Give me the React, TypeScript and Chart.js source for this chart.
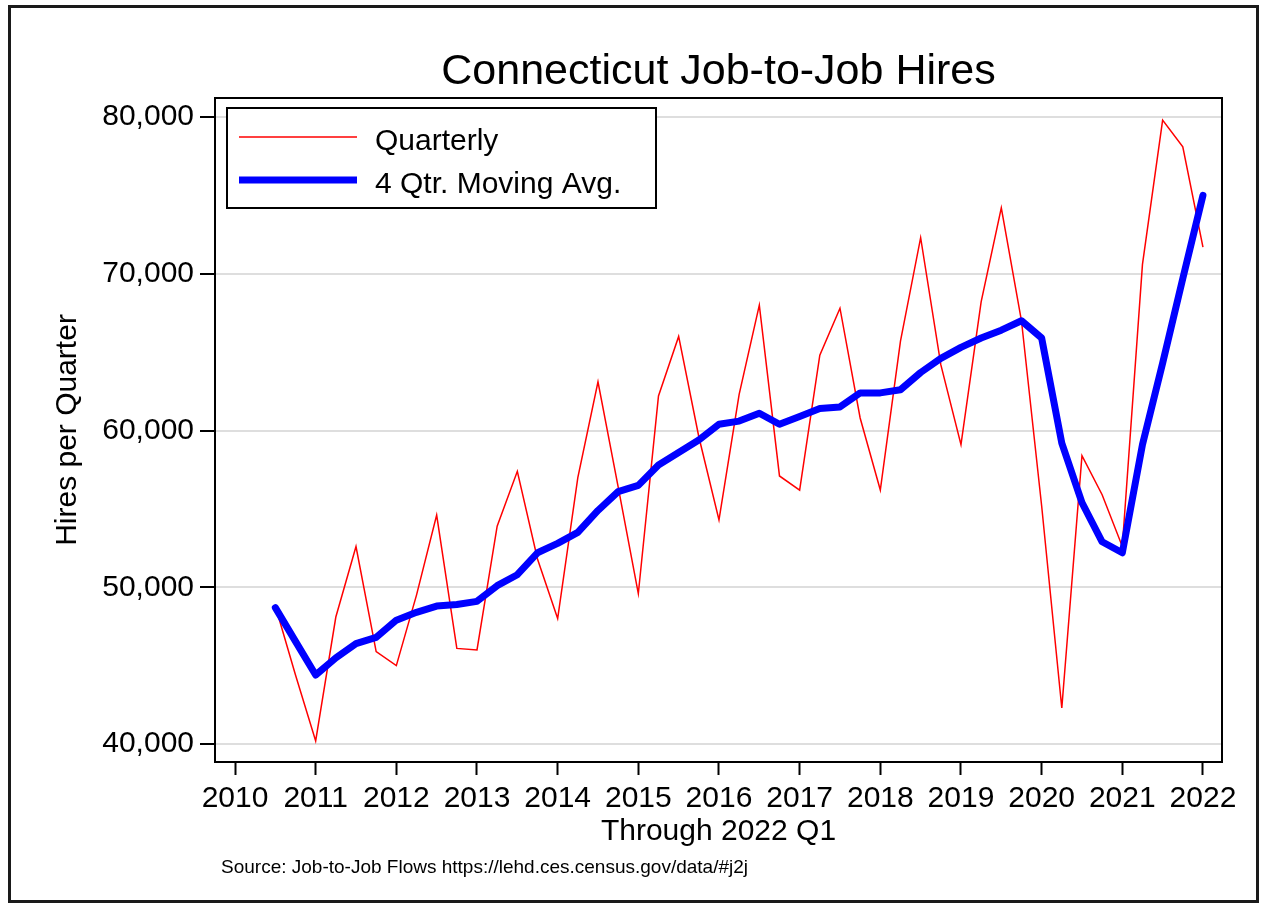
import React, { useEffect, useRef } from "react";
import { Chart, registerables } from "chart.js";

Chart.register(...registerables);

// ---------- data ----------
const QUARTERS = [
  "2010Q3", "2010Q4",
  "2011Q1", "2011Q2", "2011Q3", "2011Q4",
  "2012Q1", "2012Q2", "2012Q3", "2012Q4",
  "2013Q1", "2013Q2", "2013Q3", "2013Q4",
  "2014Q1", "2014Q2", "2014Q3", "2014Q4",
  "2015Q1", "2015Q2", "2015Q3", "2015Q4",
  "2016Q1", "2016Q2", "2016Q3", "2016Q4",
  "2017Q1", "2017Q2", "2017Q3", "2017Q4",
  "2018Q1", "2018Q2", "2018Q3", "2018Q4",
  "2019Q1", "2019Q2", "2019Q3", "2019Q4",
  "2020Q1", "2020Q2", "2020Q3", "2020Q4",
  "2021Q1", "2021Q2", "2021Q3", "2021Q4",
  "2022Q1",
];

const QUARTERLY = [
  48800, 44400,
  40200, 48100, 52600, 45900,
  45000, 49500, 54600, 46100,
  46000, 53900, 57400, 51800,
  48000, 57000, 63100, 56400,
  49600, 62200, 66000, 59600,
  54300, 62300, 68000, 57100,
  56200, 64800, 67800, 60800,
  56200, 65700, 72300, 64200,
  59100, 68200, 74200, 67000,
  55200, 42300, 58400, 55900,
  52600, 70600, 79800, 78100,
  71700,
];

const MOVING_AVG = [
  48700, 46550,
  44400, 45500, 46400, 46800,
  47900, 48400, 48800, 48900,
  49100, 50100, 50800, 52200,
  52800, 53500, 54900, 56100,
  56500, 57800, 58600, 59400,
  60400, 60600, 61100, 60400,
  60900, 61400, 61500, 62400,
  62400, 62600, 63700, 64600,
  65300, 65900, 66400, 67000,
  65900, 59200, 55400, 52900,
  52200, 59100, 64300, 69700,
  75000,
];

const YEAR_TICKS = [2010, 2011, 2012, 2013, 2014, 2015, 2016, 2017, 2018, 2019, 2020, 2021, 2022];
const VALUE_TICKS = [40000, 50000, 60000, 70000, 80000];

const SERIES_NAMES = ["Quarterly", "4 Qtr. Moving Avg."];
const TITLE = "Connecticut Job-to-Job Hires";
const Y_TITLE = "Hires per Quarter";
const X_TITLE = "Through 2022 Q1";
const SOURCE = "Source: Job-to-Job Flows https://lehd.ces.census.gov/data/#j2j";

// ---------- helpers ----------
const quarterToX = (q: string) => {
  const [y, n] = q.split("Q");
  return Number(y) + (Number(n) - 1) / 4;
};

const FONT = "'Liberation Sans', Arial, Helvetica, sans-serif";
const RED = "#ff0000";
const BLUE = "#0000ff";

const decorPlugin = {
  id: "decor",
  beforeDraw(chart: any) {
    const ctx = chart.ctx;
    ctx.save();
    ctx.fillStyle = "#ffffff";
    ctx.fillRect(0, 0, chart.width, chart.height);
    ctx.restore();
  },
  afterDraw(chart: any) {
    const ctx = chart.ctx as CanvasRenderingContext2D;
    const a = chart.chartArea;
    ctx.save();

    // plot frame
    ctx.strokeStyle = "#000";
    ctx.lineWidth = 2;
    ctx.strokeRect(a.left, a.top, a.right - a.left, a.bottom - a.top);

    // outer frame
    ctx.strokeStyle = "#1a1a1a";
    ctx.lineWidth = 3;
    ctx.strokeRect(9.5, 6.5, 1248, 895);

    // legend
    ctx.fillStyle = "#fff";
    ctx.fillRect(227, 108, 429, 100);
    ctx.strokeStyle = "#000";
    ctx.lineWidth = 2;
    ctx.strokeRect(227, 108, 429, 100);

    ctx.lineCap = "butt";
    ctx.strokeStyle = RED;
    ctx.lineWidth = 1.5;
    ctx.beginPath();
    ctx.moveTo(239, 137);
    ctx.lineTo(357, 137);
    ctx.stroke();

    ctx.strokeStyle = BLUE;
    ctx.lineWidth = 7;
    ctx.beginPath();
    ctx.moveTo(239, 180);
    ctx.lineTo(357, 180);
    ctx.stroke();

    ctx.fillStyle = "#000";
    ctx.textAlign = "left";
    ctx.textBaseline = "alphabetic";
    ctx.font = `30px ${FONT}`;
    ctx.fillText(SERIES_NAMES[0], 375, 150);
    ctx.fillText(SERIES_NAMES[1], 375, 193);

    // title
    ctx.textAlign = "center";
    ctx.font = `43px ${FONT}`;
    ctx.fillText(TITLE, (a.left + a.right) / 2, 84);

    // x title
    ctx.font = `30px ${FONT}`;
    ctx.fillText(X_TITLE, (a.left + a.right) / 2, 840);

    // y title
    ctx.save();
    ctx.translate(76, (a.top + a.bottom) / 2);
    ctx.rotate(-Math.PI / 2);
    ctx.textAlign = "center";
    ctx.font = `30px ${FONT}`;
    ctx.fillText(Y_TITLE, 0, 0);
    ctx.restore();

    // source
    ctx.textAlign = "left";
    ctx.font = `19px ${FONT}`;
    ctx.fillText(SOURCE, 221, 873);

    ctx.restore();
  },
};

export default function App() {
  const canvasRef = useRef<HTMLCanvasElement | null>(null);

  useEffect(() => {
    if (!canvasRef.current) return;
    const xs = QUARTERS.map(quarterToX);
    const chart = new Chart(canvasRef.current, {
      type: "line",
      data: {
        datasets: [
          {
            label: SERIES_NAMES[0],
            data: xs.map((x, i) => ({ x, y: QUARTERLY[i] })),
            borderColor: RED,
            borderWidth: 1.5,
            pointRadius: 0,
            tension: 0,
            order: 2,
          },
          {
            label: SERIES_NAMES[1],
            data: xs.map((x, i) => ({ x, y: MOVING_AVG[i] })),
            borderColor: BLUE,
            borderWidth: 7,
            borderJoinStyle: "round",
            borderCapStyle: "round",
            pointRadius: 0,
            tension: 0,
            order: 1,
          },
        ],
      },
      options: {
        animation: false,
        responsive: false,
        devicePixelRatio: 1,
        layout: { padding: { left: 0, top: 98, right: 43, bottom: 0 } },
        plugins: {
          legend: { display: false },
          title: { display: false },
          tooltip: { enabled: false },
        },
        scales: {
          x: {
            type: "linear",
            min: 2009.752,
            max: 2022.236,
            afterBuildTicks: (scale: any) => {
              scale.ticks = YEAR_TICKS.map((v) => ({ value: v }));
            },
            afterFit: (scale: any) => {
              scale.height = 143;
            },
            ticks: {
              autoSkip: false,
              maxRotation: 0,
              minRotation: 0,
              padding: 6,
              color: "#000",
              font: { family: FONT, size: 30 },
              callback: (v: any) => String(v),
            },
            grid: {
              drawOnChartArea: false,
              drawTicks: true,
              tickLength: 13,
              tickColor: "#000",
              tickWidth: 2,
            },
            border: { display: false },
          },
          y: {
            type: "linear",
            min: 38852,
            max: 81212,
            afterBuildTicks: (scale: any) => {
              scale.ticks = VALUE_TICKS.map((v) => ({ value: v }));
            },
            afterFit: (scale: any) => {
              scale.width = 215;
            },
            ticks: {
              padding: 6,
              color: "#000",
              font: { family: FONT, size: 30 },
              callback: (v: any) => Number(v).toLocaleString("en-US"),
            },
            grid: {
              color: "#dedede",
              lineWidth: 2,
              drawTicks: true,
              tickLength: 15,
              tickColor: "#000",
              tickWidth: 2,
            },
            border: { display: false },
          },
        },
      },
      plugins: [decorPlugin],
    });
    return () => chart.destroy();
  }, []);

  return (
    <div style={{ position: "absolute", left: 0, top: 0, width: 1265, height: 905, background: "#fff" }}>
      <canvas ref={canvasRef} width={1265} height={905} style={{ display: "block" }} />
    </div>
  );
}
